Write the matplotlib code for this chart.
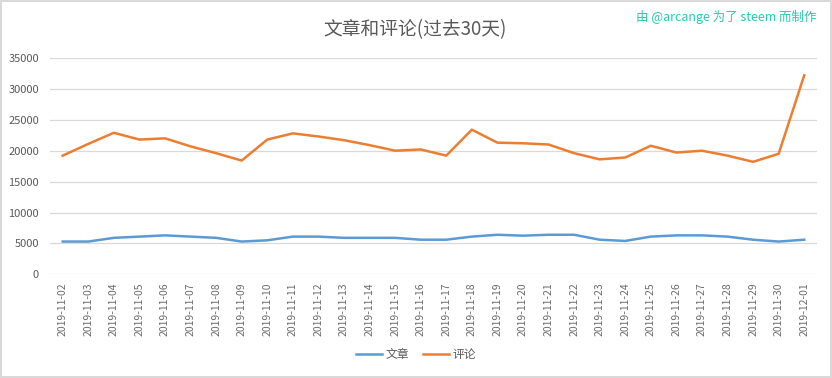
import matplotlib.pyplot as plt

plt.rcParams['font.family'] = ['Noto Sans CJK SC', 'DejaVu Sans']

dates = ["2019-11-%02d" % d for d in range(2, 31)] + ["2019-12-01"]

articles = [5300, 5300, 5900, 6100, 6300, 6100, 5900, 5300, 5500, 6100,
            6100, 5900, 5900, 5900, 5600, 5600, 6100, 6400, 6250, 6400,
            6400, 5600, 5400, 6100, 6300, 6300, 6100, 5600, 5300, 5600]
comments = [19200, 21100, 22900, 21800, 22000, 20700, 19600, 18400, 21800, 22800,
            22300, 21700, 20900, 20000, 20200, 19200, 23400, 21300, 21200, 21000,
            19600, 18600, 18900, 20800, 19700, 20000, 19200, 18200, 19500, 32200]

fig = plt.figure(figsize=(8.32, 3.78), dpi=100, edgecolor='#d9d9d9', linewidth=1.5)
ax = fig.add_axes([0.060, 0.2743, 0.922, 0.5723])

x = range(len(dates))
ax.plot(x, articles, color='#5b9bd5', lw=1.8, label='文章')
ax.plot(x, comments, color='#ed7d31', lw=1.8, label='评论')

ax.set_xlim(-0.5, len(dates) - 0.5)
ax.set_ylim(0, 35000)
ax.set_yticks(range(0, 35001, 5000))
ax.set_xticks(list(x))
ax.set_xticklabels(dates, rotation=90, fontsize=7.5, color='#6b6b6b')
ax.tick_params(axis='y', labelsize=8, colors='#595959', length=0, pad=8)
ax.tick_params(axis='x', length=0, pad=6)
ax.grid(axis='y', color='#d9d9d9', lw=0.9)
ax.set_axisbelow(True)
for s in ax.spines.values():
    s.set_visible(False)

fig.text(0.499, 0.922, '文章和评论(过去30天)', ha='center', va='center',
         fontsize=13.5, color='#595959', fontweight='light')
fig.text(0.981, 0.955, '由 @arcange 为了 steem 而制作', ha='right', va='center',
         fontsize=9, color='#22cdb0')

fig.legend(loc='center', bbox_to_anchor=(0.5, 0.062), ncol=2, frameon=False,
           fontsize=8.5, handlelength=2.2, columnspacing=1.2, handletextpad=0.3,
           labelcolor='#595959')

fig.savefig('out.png', dpi=100)
